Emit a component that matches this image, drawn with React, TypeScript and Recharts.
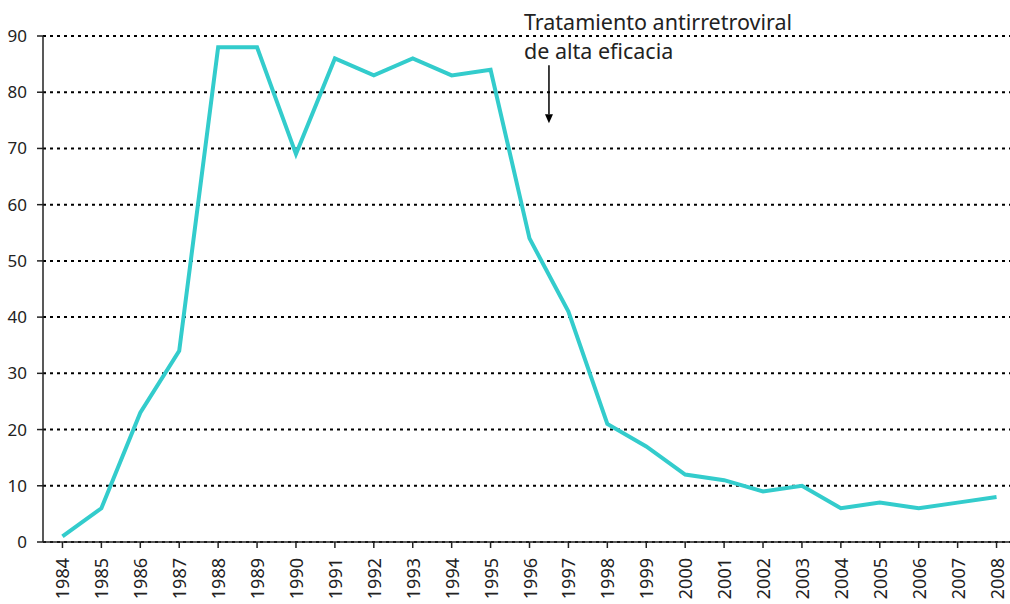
import React from 'react';
import { LineChart, Line, XAxis, YAxis, CartesianGrid, ReferenceLine } from 'recharts';

const years = ['1984','1985','1986','1987','1988','1989','1990','1991','1992','1993','1994','1995','1996','1997','1998','1999','2000','2001','2002','2003','2004','2005','2006','2007','2008'];
const cases = [1, 6, 23, 34, 88, 88, 69, 86, 83, 86, 83, 84, 54, 41, 21, 17, 12, 11, 9, 10, 6, 7, 6, 7, 8];
const yTicks = [0, 10, 20, 30, 40, 50, 60, 70, 80, 90];
const annotationYear = '1996';
const annotationLines = ['Tratamiento antirretroviral', 'de alta eficacia'];
const arrowFrom = 84.8;
const arrowTo = 74.5;

const data = years.map((y, i) => ({ year: y, value: cases[i] }));

const FONT = '"Noto Sans", "Open Sans", sans-serif';

const ArrowShape = (props: any) => {
  const { x1, y1, x2, y2 } = props;
  if (x1 == null) return null;
  const head = 9;
  return (
    <g>
      <line x1={x1} y1={y1} x2={x2} y2={y2 - head} stroke="#000" strokeWidth={1.5} />
      <polygon points={`${x2 - 4},${y2 - head} ${x2 + 4},${y2 - head} ${x2},${y2}`} fill="#000" />
      <text x={x1 - 25} y={y1 - 35} fontSize={21.5} fontFamily={FONT} fill="#222">{annotationLines[0]}</text>
      <text x={x1 - 25} y={y1 - 6} fontSize={21.5} fontFamily={FONT} fill="#222">{annotationLines[1]}</text>
    </g>
  );
};

const XTick = (props: any) => {
  const { x, y, payload } = props;
  return (
    <text x={x} y={y} transform={`rotate(-90, ${x}, ${y})`} textAnchor="end" dominantBaseline="central" fontSize={18} fontFamily={FONT} fill="#222">
      {payload.value}
    </text>
  );
};

export default function App() {
  return (
    <div style={{ position: 'absolute', left: 0, top: 0, width: 1010, height: 604, overflow: 'hidden', background: '#fff' }}>
      <LineChart width={1016} height={604} data={data} margin={{ top: 36, right: 0, bottom: 0, left: 0 }}>
        <CartesianGrid vertical={false} stroke="#000" strokeDasharray="3 4" strokeWidth={2} />
        <XAxis
          dataKey="year"
          scale="band"
          height={62}
          interval={0}
          stroke="#222"
          strokeWidth={1.5}
          tickSize={6}
          tickMargin={10}
          tick={<XTick />}
        />
        <YAxis
          domain={[0, 90]}
          ticks={yTicks}
          width={43}
          stroke="#222"
          strokeWidth={1.5}
          tickSize={6}
          tickMargin={10}
          tick={{ fontSize: 17, fontFamily: FONT, fill: '#222' }}
        />
        <ReferenceLine
          segment={[{ x: annotationYear, y: arrowFrom }, { x: annotationYear, y: arrowTo }]}
          position="end"
          ifOverflow="visible"
          shape={<ArrowShape />}
        />
        <Line type="linear" dataKey="value" stroke="#33cccc" strokeWidth={4} dot={false} isAnimationActive={false} />
      </LineChart>
    </div>
  );
}
